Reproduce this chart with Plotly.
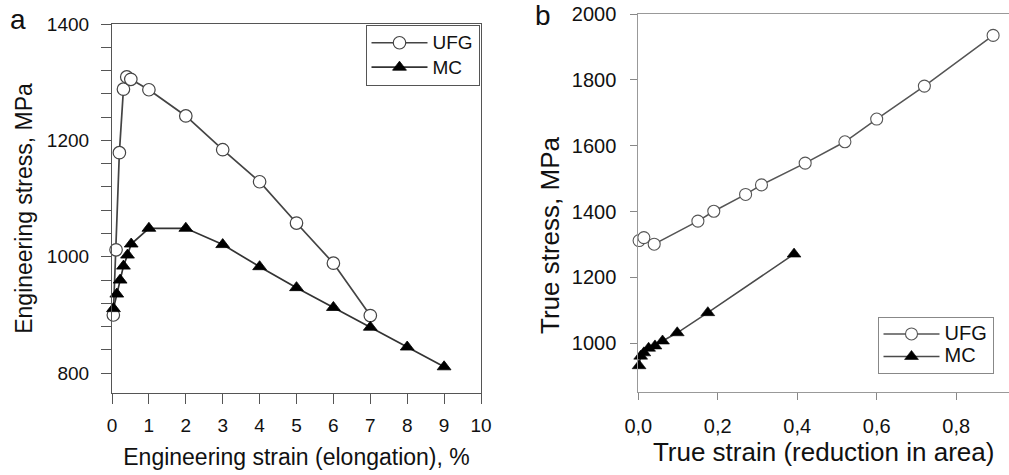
import plotly.graph_objects as go

# ---- data ----
# Panel a: engineering stress-strain
ufg_eng_strain = [0.036, 0.11, 0.2, 0.31, 0.4, 0.51, 1, 2, 3, 4, 5, 6, 7]
ufg_eng_stress = [900, 1012, 1179, 1288, 1309, 1305, 1287, 1242, 1184, 1129, 1058, 989, 899]
mc_eng_strain = [0.04, 0.13, 0.22, 0.31, 0.42, 0.52, 1, 2, 3, 4, 5, 6, 7, 8, 9]
mc_eng_stress = [911, 936, 960, 984, 1003, 1022, 1049, 1049, 1021, 983, 947, 913, 879, 845, 811]

# Panel b: true stress-strain
ufg_true_strain = [0.002, 0.014, 0.04, 0.15, 0.19, 0.27, 0.31, 0.42, 0.52, 0.60, 0.72, 0.893]
ufg_true_stress = [1312, 1321, 1301, 1371, 1401, 1452, 1481, 1547, 1612, 1681, 1781, 1935]
mc_true_strain = [0.002, 0.006, 0.014, 0.026, 0.042, 0.061, 0.098, 0.175, 0.392]
mc_true_stress = [932, 961, 971, 985, 992, 1007, 1032, 1093, 1271]

series_names = ["UFG", "MC"]
a_xticks = list(range(0, 11))
b_xticks = [0.0, 0.2, 0.4, 0.6, 0.8]
b_xticklabels = ["0,0", "0,2", "0,4", "0,6", "0,8"]

W, H = 1009, 475
FONT = "Liberation Sans, Arial, sans-serif"

def px_x(p):
    return p / W

def px_y(p):
    return 1 - p / H

def lname(name, size):
    return f"<span style='font-size:{size}px'>{name}</span>"

fig = go.Figure()

# panel a
fig.add_trace(go.Scatter(
    x=ufg_eng_strain, y=ufg_eng_stress, mode="lines+markers", name=lname(series_names[0], 19),
    line=dict(color="#444444", width=1.7), cliponaxis=False,
    marker=dict(symbol="circle", size=12.5, color="white", line=dict(color="#444444", width=1.2)),
    xaxis="x", yaxis="y", legend="legend"))
fig.add_trace(go.Scatter(
    x=mc_eng_strain, y=mc_eng_stress, mode="lines+markers", name=lname(series_names[1], 19),
    line=dict(color="#333333", width=1.7), cliponaxis=False,
    marker=dict(symbol="triangle-up", size=12, color="black", line=dict(color="black", width=0.8)),
    xaxis="x", yaxis="y", legend="legend"))

# panel b
fig.add_trace(go.Scatter(
    x=ufg_true_strain, y=ufg_true_stress, mode="lines+markers", name=lname(series_names[0], 20),
    line=dict(color="#555555", width=1.5), cliponaxis=False,
    marker=dict(symbol="circle", size=12, color="white", line=dict(color="#555555", width=1.1)),
    xaxis="x2", yaxis="y2", legend="legend2"))
fig.add_trace(go.Scatter(
    x=mc_true_strain, y=mc_true_stress, mode="lines+markers", name=lname(series_names[1], 20),
    line=dict(color="#4a4a4a", width=1.5), cliponaxis=False,
    marker=dict(symbol="triangle-up", size=12, color="black", line=dict(color="black", width=0.6)),
    xaxis="x2", yaxis="y2", legend="legend2"))

axis_common = dict(showgrid=False, zeroline=False, showline=True, ticks="outside",
                   automargin=False)

fig.update_layout(
    width=W, height=H,
    margin=dict(l=0, r=0, t=0, b=0),
    paper_bgcolor="white", plot_bgcolor="white",
    font=dict(family=FONT, color="#111111", size=18),
    xaxis=dict(**axis_common,
               domain=[px_x(112), px_x(481)], anchor="y",
               range=[0, 10], tickvals=a_xticks, ticklen=10, tickcolor="#555",
               linecolor="#555", linewidth=1.2, mirror=True,
               tickfont=dict(size=19), ticklabelstandoff=5,
               title=dict(text="Engineering strain (elongation), %", font=dict(size=23), standoff=13)),
    yaxis=dict(**axis_common,
               domain=[px_y(393), px_y(24)], anchor="x",
               range=[766, 1400], dtick=200, tick0=0, ticklen=10, tickcolor="#555",
               minor=dict(dtick=40, tick0=0, ticklen=10, tickcolor="#555", ticks="outside"),
               linecolor="#555", linewidth=1.2, mirror=True,
               tickfont=dict(size=19), ticklabelstandoff=8,
               title=dict(text="Engineering stress, MPa", font=dict(size=23), standoff=7)),
    xaxis2=dict(**axis_common,
                domain=[px_x(638.3), 1.0], anchor="y2",
                range=[0, 0.933], tickvals=b_xticks, ticktext=b_xticklabels,
                ticklen=7, tickcolor="#888", linecolor="#999", linewidth=1, mirror=True,
                tickfont=dict(size=20), ticklabelstandoff=9,
                title=dict(text="True strain (reduction in area)", font=dict(size=26), standoff=7)),
    yaxis2=dict(**axis_common,
                domain=[px_y(391.7), px_y(14)], anchor="x2",
                range=[853, 2000], dtick=200, tick0=0, ticklen=7, tickcolor="#888",
                linecolor="#999", linewidth=1, mirror=False,
                tickfont=dict(size=20), ticklabelstandoff=10),
    legend=dict(x=px_x(479.5), xanchor="right", y=px_y(24.5), yanchor="top",
                bgcolor="white", bordercolor="#555", borderwidth=1,
                font=dict(size=16.5), itemwidth=56, tracegroupgap=0),
    legend2=dict(x=px_x(993.5), xanchor="right", y=px_y(316.7), yanchor="top",
                 bgcolor="white", bordercolor="#888", borderwidth=1,
                 font=dict(size=15), itemwidth=56, tracegroupgap=0),
    annotations=[
        dict(text="a", x=px_x(18), y=px_y(19), xref="paper", yref="paper",
             showarrow=False, font=dict(size=28), xanchor="center", yanchor="middle"),
        dict(text="b", x=px_x(543), y=px_y(16), xref="paper", yref="paper",
             showarrow=False, font=dict(size=28), xanchor="center", yanchor="middle"),
        dict(text="True stress, MPa", x=px_x(550), y=px_y(235), xref="paper", yref="paper",
             showarrow=False, textangle=-90, font=dict(size=26),
             xanchor="center", yanchor="middle"),
    ],
)

fig.write_html("out.html", config={"displayModeBar": False},
               post_script="document.body.style.margin='0px';")
